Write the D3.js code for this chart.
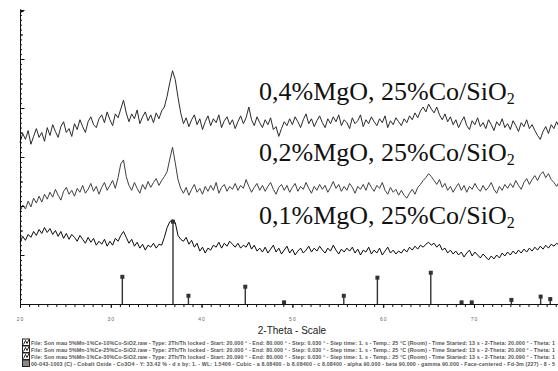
<!DOCTYPE html>
<html>
<head>
<meta charset="utf-8">
<script src="https://cdn.jsdelivr.net/npm/d3@7"></script>
<style>
  body { margin: 0; background: #fff; }
  svg { display: block; }
</style>
</head>
<body>
<svg id="xrd"></svg>
<script>
// 2-theta grid: 20.0 .. 80.0, every 0.3 deg
var twoTheta = d3.range(0, 201).map(function (k) { return 20 + k * 0.3; });

// Lin (Counts)
var mg04 = [
  165, 174, 168, 177, 163, 171, 179, 170, 175, 166,
  180, 172, 183, 176, 170, 181, 186, 175, 179, 171,
  184, 178, 188, 181, 175, 186, 191, 183, 180, 189,
  193, 185, 196, 188, 182, 194, 190, 199, 208, 195,
  186, 194, 189, 198, 184, 191, 196, 187, 193, 185,
  195, 189, 197, 201, 212, 226, 238, 229, 211, 195,
  184, 190, 181, 188, 193, 183, 189, 178, 186, 192,
  182, 189, 185, 193, 180, 187, 191, 183, 188, 179,
  186, 192, 184, 190, 201, 188, 182, 191, 185, 180,
  188, 183, 190, 178, 181, 171, 179, 186, 182, 189,
  183, 191, 186, 180, 188, 194, 184, 189, 181, 187,
  192, 185, 180, 189, 184, 191, 186, 193, 182, 188,
  185, 179, 190, 184, 187, 193, 181, 188, 184, 191,
  186, 182, 189, 185, 192, 180, 187, 183, 190, 186,
  182, 189, 185, 192, 188, 195, 190, 197, 201, 196,
  204, 199, 195, 201, 193, 188, 194, 186, 191, 183,
  188, 180, 186, 191, 182, 178, 187, 183, 190, 181,
  185, 179, 188, 183, 177, 186, 182, 189, 180, 184,
  178, 187, 182, 176, 185, 181, 188, 179, 183, 177,
  172, 168, 176, 181, 174, 183, 179, 186, 180, 176, 183
];
var mg02 = [
  94, 101, 97, 105, 99, 108, 103, 110, 104, 112,
  107, 114, 109, 117, 111, 106, 115, 119, 112, 116,
  110, 118, 114, 121, 113, 117, 123, 115, 120, 112,
  119, 124, 116, 121, 126, 118, 129, 143, 147, 130,
  121, 116, 124, 118, 113, 122, 117, 125, 119, 124,
  128, 121, 126, 130, 135, 148, 160, 144, 127, 118,
  113, 119, 111, 117, 122, 114, 118, 112, 120, 115,
  121, 116, 124, 113, 119, 122, 115, 120, 117, 123,
  116, 121, 118, 127, 120, 114, 119, 123, 116, 121,
  115, 120, 124, 117, 112, 119, 122, 116, 121, 114,
  119, 123, 115, 120, 117, 124, 118, 113, 120, 116,
  122, 117, 121, 114, 119, 125, 118, 122, 115, 120,
  116, 123, 119, 113, 120, 117, 122, 116, 124, 119,
  115, 121, 118, 124, 116, 112, 119, 114, 117, 111,
  116, 111, 108, 113, 117, 112, 119, 122, 126, 129,
  133, 130, 126, 122, 127, 119, 123, 116, 120, 114,
  119, 123, 116, 121, 114, 120, 117, 123, 118, 115,
  121, 116, 119, 124, 117, 113, 120, 116, 122, 118,
  123, 119, 126, 121, 117, 124, 128, 122, 127, 131,
  126, 132, 135, 129, 133, 127, 124, 120, 125, 118, 122
];
var mg01 = [
  63, 69, 65, 71, 68, 74, 70, 76, 72, 78,
  73, 77, 71, 75, 69, 74, 67, 72, 66, 71,
  68, 64, 70, 66, 62, 68, 63, 67, 60, 64,
  61, 66, 59, 64, 60, 67, 64, 70, 74, 68,
  62, 66, 59, 63, 57, 61, 55, 60, 58, 62,
  57, 61, 60, 68, 78, 84, 86, 83, 70, 66,
  64, 68, 61, 65, 58, 62, 54, 58, 52, 57,
  55, 60, 58, 63, 57, 62, 59, 64, 61, 58,
  62, 57, 60, 58, 63, 56, 60, 54, 57, 53,
  58, 52, 56, 60, 53, 57, 51, 55, 59, 52,
  56, 50, 54, 57, 52, 55, 59, 53, 57, 54,
  59, 55, 52, 57, 54, 60, 55, 51, 56, 53,
  57, 54, 58, 52, 56, 50, 55, 53, 58, 51,
  55, 52, 57, 50, 54, 58, 52, 55, 51, 54,
  52, 56, 53, 58, 55, 59, 56, 60, 58, 61,
  63, 60, 62, 58, 61, 55, 57, 52, 55, 51,
  54, 50, 53, 48, 52, 55, 49, 53, 50, 47,
  51, 48, 45, 49, 46, 50, 47, 52, 49, 53,
  50, 54, 51, 55, 52, 56, 53, 57, 54, 58,
  55, 59, 56, 60, 57, 61, 59, 62, 60, 63, 61
];

// Co3O4 00-043-1003 stick pattern
var stickPos = [31.27, 36.85, 38.55, 44.81, 49.08, 55.66, 59.36, 65.24, 68.63, 69.75, 74.12, 77.34, 78.40];
var stickInt = [33, 100, 10, 21, 2, 10, 32, 38, 2, 2, 5, 9, 6];
var stickMax = 84;

var traceLabels = ["0,4%MgO, 25%Co/SiO", "0,2%MgO, 25%Co/SiO", "0,1%MgO, 25%Co/SiO"];
var xTicks = [20, 30, 40, 50, 60, 70];
var legendLines = [
  "File: Son mau 5%Mn-1%Ce-10%Co-SiO2.raw - Type: 2Th/Th locked - Start: 20.000 \u00b0 - End: 80.000 \u00b0 - Step: 0.030 \u00b0 - Step time: 1. s - Temp.: 25 \u00b0C (Room) - Time Started: 13 s - 2-Theta: 20.000 \u00b0 - Theta: 1",
  "File: Son mau 5%Mn-1%Ce-25%Co-SiO2.raw - Type: 2Th/Th locked - Start: 20.000 \u00b0 - End: 80.000 \u00b0 - Step: 0.030 \u00b0 - Step time: 1. s - Temp.: 25 \u00b0C (Room) - Time Started: 13 s - 2-Theta: 20.000 \u00b0 - Theta: 1",
  "File: Son mau 5%Mn-1%Ce-30%Co-SiO2.raw - Type: 2Th/Th locked - Start: 20.090 \u00b0 - End: 80.000 \u00b0 - Step: 0.030 \u00b0 - Step time: 1. s - Temp.: 25 \u00b0C (Room) - Time Started: 13 s - 2-Theta: 20.090 \u00b0 - Theta: 1",
  "00-043-1003 (C) - Cobalt Oxide - Co3O4 - Y: 33.42 % - d x by: 1. - WL: 1.5406 - Cubic - a 8.08400 - b 8.08400 - c 8.08400 - alpha 90.000 - beta 90.000 - gamma 90.000 - Face-centered - Fd-3m (227) - 8 - 5"
];

var W = 558, H = 371;
var svg = d3.select("#xrd").attr("width", W).attr("height", H);

var x = d3.scaleLinear().domain([20, 80]).range([20, 564.8]);
var y = d3.scaleLinear().domain([0, 300]).range([304, 10]);

// traces
var series = [
  { vals: mg04, color: "#2a2a2a" },
  { vals: mg02, color: "#404040" },
  { vals: mg01, color: "#0a0a0a" }
];
var line = d3.line()
  .defined(function (d) { return d[1] != null; })
  .x(function (d) { return x(d[0]); })
  .y(function (d) { return y(d[1]); });

series.forEach(function (s) {
  svg.append("path")
    .datum(twoTheta.map(function (t, i) { return [t, s.vals[i]]; }))
    .attr("fill", "none")
    .attr("stroke", s.color)
    .attr("stroke-width", 1)
    .attr("stroke-linejoin", "round")
    .attr("d", line);
});

// reference sticks
var sticks = svg.append("g");
stickPos.forEach(function (p, i) {
  var top = y(stickInt[i] * stickMax / 100);
  sticks.append("line")
    .attr("x1", x(p)).attr("x2", x(p))
    .attr("y1", y(0)).attr("y2", top)
    .attr("stroke", "#333").attr("stroke-width", 1.4);
  sticks.append("rect")
    .attr("x", x(p) - 2).attr("y", top - 2)
    .attr("width", 4).attr("height", 4)
    .attr("fill", "#333");
});

// y axis (no labels, ticks inside)
function yAxisTicks(vals, size) {
  var g = svg.append("g").attr("transform", "translate(" + x(20) + ",0)");
  d3.axisRight(y).tickValues(vals).tickSize(size).tickSizeOuter(0).tickFormat("")(g);
  g.selectAll("line").attr("stroke", "#111");
  g.select(".domain").attr("stroke", "#111");
}
yAxisTicks(d3.range(0, 301, 5), 2);
yAxisTicks(d3.range(25, 300, 50), 3);
yAxisTicks(d3.range(0, 301, 50), 4.5);
svg.append("path")
  .attr("d", "M" + x(20) + "," + (y(300) - 1) + "l4,2.5l-4,1.5z")
  .attr("fill", "#111");

// x axis
var xMinorG = svg.append("g").attr("transform", "translate(0," + y(0) + ")");
d3.axisBottom(x).tickValues(d3.range(20, 81, 1)).tickSize(3).tickSizeOuter(0).tickFormat("")(xMinorG);
xMinorG.selectAll("line").attr("stroke", "#111");
xMinorG.select(".domain").attr("stroke", "#111");

var xMajorG = svg.append("g").attr("transform", "translate(0," + y(0) + ")");
d3.axisBottom(x).tickValues(xTicks).tickSize(4).tickSizeOuter(0).tickPadding(9)(xMajorG);
xMajorG.select(".domain").remove();
xMajorG.selectAll("line").attr("stroke", "#111");
xMajorG.selectAll("text")
  .attr("fill", "#666")
  .style("font-family", "Arial, 'Liberation Sans', sans-serif")
  .style("font-size", "5px")
  .style("letter-spacing", "1px");

svg.append("text")
  .attr("x", 292).attr("y", 334)
  .attr("text-anchor", "middle")
  .style("font-family", "Arial, 'Liberation Sans', sans-serif")
  .style("font-size", "10px")
  .attr("fill", "#222")
  .text("2-Theta - Scale");

// trace labels
var labelBase = [100, 161, 224];
traceLabels.forEach(function (t, i) {
  var tx = svg.append("text")
    .attr("x", 259).attr("y", labelBase[i])
    .style("font-family", "'Liberation Serif', 'Times New Roman', serif")
    .style("font-size", "26px")
    .attr("fill", "#111");
  tx.append("tspan").text(t);
  tx.append("tspan").attr("dy", 3.5).style("font-size", "16px").text("2");
});

// file legend at the bottom
legendLines.forEach(function (t, i) {
  var ly = 345 + i * 7;
  svg.append("rect")
    .attr("x", 22.5).attr("y", ly - 6).attr("width", 7).attr("height", 6.5)
    .attr("fill", i < 3 ? "#fff" : "#888")
    .attr("stroke", "#222").attr("stroke-width", 1);
  if (i < 3) {
    svg.append("path")
      .attr("d", "M" + 23.5 + "," + (ly - 0.5) + "l2,-4l1.5,3l2,-4")
      .attr("fill", "none").attr("stroke", "#222").attr("stroke-width", 1);
  }
  svg.append("text")
    .attr("x", 31).attr("y", ly)
    .attr("textLength", 524)
    .attr("lengthAdjust", "spacing")
    .style("font-family", "Arial, 'Liberation Sans', sans-serif")
    .style("font-size", "5.3px")
    .style("font-weight", "bold")
    .attr("fill", "#555")
    .text(t);
});
</script>
</body>
</html>
